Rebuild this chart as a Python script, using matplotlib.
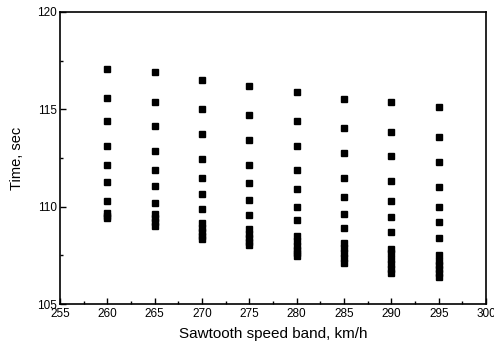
import numpy as np
import matplotlib
matplotlib.use('Agg')
import matplotlib.pyplot as plt
from matplotlib.ticker import MultipleLocator

plt.rcParams['font.family'] = ['Liberation Sans', 'DejaVu Sans']

# speed bands and the times measured in each band
speeds = [260, 265, 270, 275, 280, 285, 290, 295]
t260 = [117.05, 115.6, 114.4, 113.1, 112.15, 111.25, 110.3, 109.7, 109.55, 109.4]
t265 = [116.9, 115.35, 114.15, 112.85, 111.9, 111.05, 110.2, 109.65, 109.4, 109.2, 109.0]
t270 = [116.5, 115.0, 113.75, 112.45, 111.45, 110.65, 109.9, 109.15, 108.9, 108.7, 108.5, 108.35]
t275 = [116.2, 114.7, 113.45, 112.15, 111.2, 110.35, 109.6, 108.85, 108.6, 108.4, 108.2, 108.05]
t280 = [115.9, 114.4, 113.1, 111.9, 110.9, 110.0, 109.3, 108.5, 108.25, 108.0, 107.8, 107.6, 107.45]
t285 = [115.55, 114.05, 112.75, 111.45, 110.5, 109.65, 108.9, 108.15, 107.9, 107.6, 107.35, 107.1]
t290 = [115.4, 113.85, 112.6, 111.3, 110.3, 109.45, 108.7, 107.85, 107.6, 107.3, 107.05, 106.8, 106.6]
t295 = [115.1, 113.6, 112.3, 111.0, 110.0, 109.2, 108.4, 107.5, 107.2, 107.0, 106.8, 106.6, 106.4]
times = [t260, t265, t270, t275, t280, t285, t290, t295]

fig = plt.figure(figsize=(4.94, 3.5), dpi=100)
ax = fig.add_axes([0.1215, 0.131, 0.8625, 0.835])

for s, t in zip(speeds, times):
    ax.plot([s] * len(t), t, 's', color='black', markersize=4.3, linestyle='none')

ax.set_xlim(255, 300)
ax.set_ylim(105, 120)
ax.xaxis.set_major_locator(MultipleLocator(5))
ax.xaxis.set_minor_locator(MultipleLocator(2.5))
ax.yaxis.set_major_locator(MultipleLocator(5))
ax.yaxis.set_minor_locator(MultipleLocator(2.5))
ax.tick_params(which='both', direction='in', labelsize=8.5, width=1)
ax.tick_params(which='major', length=4, pad=2.5)
ax.tick_params(which='minor', length=2)
for sp in ax.spines.values():
    sp.set_linewidth(1.2)

ax.set_xlabel('Sawtooth speed band, km/h', fontsize=11, labelpad=5)
ax.set_ylabel('Time, sec', fontsize=10.5, labelpad=9)

fig.savefig('out.png', dpi=100)
